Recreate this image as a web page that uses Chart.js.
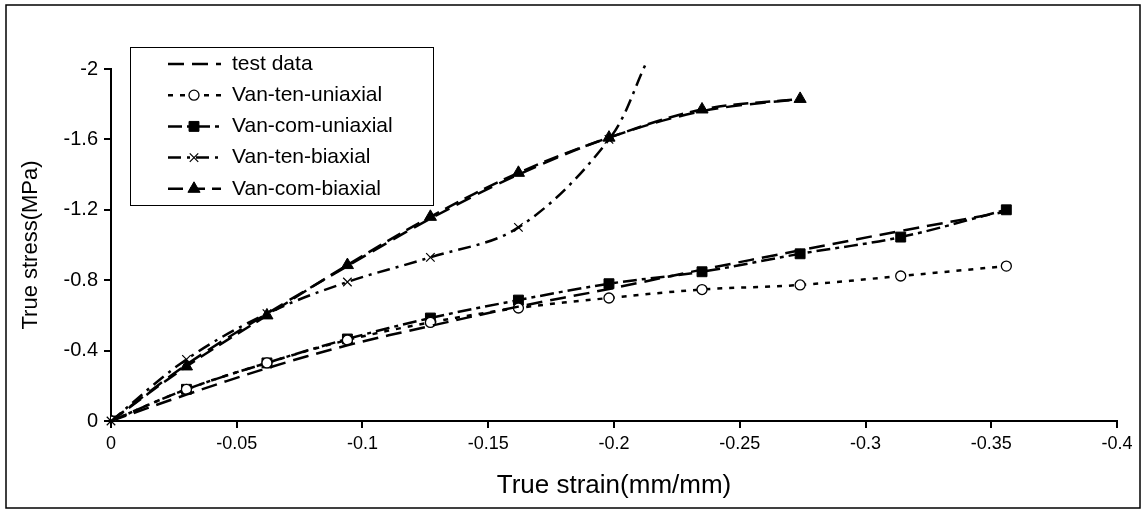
<!DOCTYPE html>
<html>
<head>
<meta charset="utf-8">
<script src="https://cdn.jsdelivr.net/npm/chart.js@4.4.0/dist/chart.umd.min.js"></script>
<style>
  body { margin: 0; background: #fff; }
  #wrap { width: 1146px; height: 513px; }
</style>
</head>
<body>
<div id="wrap"><canvas id="stressChart" width="1146" height="513"></canvas></div>
<script>
// strain points (mm/mm)
const strainPts = [0, -0.03, -0.062, -0.094, -0.127, -0.162, -0.198, -0.235, -0.274, -0.314, -0.356];
const strainBiTen = [0, -0.03, -0.062, -0.094, -0.127, -0.162, -0.198, -0.213];

// stress values (MPa)
const testUni = [0, -0.15, -0.30, -0.43, -0.54, -0.65, -0.75, -0.86, -0.97, -1.08, -1.19];
const testBi = [0, -0.32, -0.61, -0.88, -1.15, -1.40, -1.61, -1.76, -1.83];
const tenUni = [0, -0.18, -0.33, -0.46, -0.56, -0.642, -0.699, -0.747, -0.773, -0.824, -0.88];
const comUni = [0, -0.18, -0.33, -0.466, -0.585, -0.687, -0.78, -0.848, -0.95, -1.045, -1.20];
const tenBi = [0, -0.35, -0.61, -0.79, -0.93, -1.10, -1.60, -2.04];
const comBi = [0, -0.31, -0.60, -0.886, -1.16, -1.41, -1.61, -1.77, -1.83];

const xTicks = [0, -0.05, -0.1, -0.15, -0.2, -0.25, -0.3, -0.35, -0.4];
const yTicks = [0, -0.4, -0.8, -1.2, -1.6, -2];

const seriesNames = ['test data', 'Van-ten-uniaxial', 'Van-com-uniaxial', 'Van-ten-biaxial', 'Van-com-biaxial'];

const FONT = '"Liberation Sans", Arial, sans-serif';

function pts(xs, ys) {
  return ys.map((y, i) => ({ x: xs[i], y: y }));
}

const base = {
  showLine: true,
  borderColor: '#000',
  backgroundColor: '#000',
  pointBorderColor: '#000',
  borderWidth: 2.5,
  tension: 0.35,
  pointBorderWidth: 1
};

const datasets = [
  Object.assign({}, base, { label: seriesNames[0], data: pts(strainPts, testUni), borderDash: [16, 8], pointRadius: 0 }),
  Object.assign({}, base, { label: 'test data (biaxial)', data: pts(strainPts, testBi), borderDash: [16, 8], pointRadius: 0, noLegend: true }),
  Object.assign({}, base, { label: seriesNames[1], data: pts(strainPts, tenUni), borderDash: [5, 7], pointStyle: 'circle', pointRadius: 5, pointBackgroundColor: '#fff', pointBorderWidth: 1.3 }),
  Object.assign({}, base, { label: seriesNames[2], data: pts(strainPts, comUni), borderDash: [14, 5, 4, 5], pointStyle: 'rect', pointRadius: 7 }),
  Object.assign({}, base, { label: seriesNames[3], data: pts(strainBiTen, tenBi), borderDash: [13, 6, 3, 6], pointStyle: 'crossRot', pointRadius: tenBi.map((v, i) => i === tenBi.length - 1 ? 0 : 6), pointBorderWidth: 1.2, clip: false }),
  Object.assign({}, base, { label: seriesNames[4], data: pts(strainPts, comBi), borderDash: [15, 7], pointStyle: 'triangle', pointRadius: 7 })
];

// frame around the whole picture
const framePlugin = {
  id: 'frame',
  beforeDraw(chart) {
    const c = chart.ctx;
    c.save();
    c.fillStyle = '#fff';
    c.fillRect(0, 0, chart.width, chart.height);
    c.strokeStyle = '#000';
    c.lineWidth = 1.5;
    c.strokeRect(6, 5, 1134, 503);
    c.restore();
  }
};

// legend box like the original
const boxLegend = {
  id: 'boxLegend',
  afterDraw(chart) {
    const c = chart.ctx;
    c.save();
    c.fillStyle = '#fff';
    c.fillRect(130, 47, 303, 158);
    c.strokeStyle = '#000';
    c.lineWidth = 1;
    c.strokeRect(130.5, 47.5, 303, 158);
    let row = 0;
    chart.data.datasets.forEach(ds => {
      if (ds.noLegend) return;
      const y = 64 + row * 31.2;
      c.strokeStyle = '#000';
      c.lineWidth = 2.5;
      c.setLineDash(ds.borderDash || []);
      c.beginPath();
      c.moveTo(168, y);
      c.lineTo(221, y);
      c.stroke();
      c.setLineDash([]);
      if (ds.pointStyle) {
        const r = Array.isArray(ds.pointRadius) ? ds.pointRadius[1] : ds.pointRadius;
        c.fillStyle = ds.pointBackgroundColor || '#000';
        c.lineWidth = ds.pointBorderWidth || 1;
        Chart.helpers.drawPoint(c, { pointStyle: ds.pointStyle, radius: r, rotation: 0, borderWidth: ds.pointBorderWidth || 1 }, 194, y);
      }
      c.fillStyle = '#000';
      c.font = '21px ' + FONT;
      c.textBaseline = 'middle';
      c.textAlign = 'left';
      c.fillText(ds.label, 232, y);
      row++;
    });
    c.restore();
  }
};

const fmt = v => String(Number(v.toFixed(2)));

new Chart(document.getElementById('stressChart'), {
  type: 'scatter',
  data: { datasets: datasets },
  options: {
    responsive: false,
    animation: false,
    layout: { padding: { top: 69, right: 29, left: 0, bottom: 0 } },
    plugins: { legend: { display: false }, tooltip: { enabled: false } },
    scales: {
      x: {
        type: 'linear',
        min: -0.4, max: 0, reverse: true,
        afterBuildTicks: s => { s.ticks = xTicks.map(v => ({ value: v })); },
        afterFit: s => { s.height = 92; },
        border: { display: true, color: '#000', width: 2 },
        grid: { drawOnChartArea: false, color: '#000', lineWidth: 2, tickLength: 7 },
        ticks: {
          color: '#000', padding: 5, maxRotation: 0, autoSkip: false,
          font: { family: FONT, size: 18 },
          callback: v => fmt(v)
        },
        title: {
          display: true, text: 'True strain(mm/mm)', color: '#000',
          font: { family: FONT, size: 26 },
          padding: { top: 4, bottom: 12 }
        }
      },
      y: {
        type: 'linear',
        min: -2, max: 0, reverse: true,
        afterBuildTicks: s => { s.ticks = yTicks.map(v => ({ value: v })); },
        afterFit: s => { s.width = 111; },
        border: { display: true, color: '#000', width: 2 },
        grid: { drawOnChartArea: false, color: '#000', lineWidth: 2, tickLength: 7 },
        ticks: {
          color: '#000', padding: 6,
          font: { family: FONT, size: 20 },
          callback: v => fmt(v)
        },
        title: {
          display: true, text: 'True stress(MPa)', color: '#000',
          font: { family: FONT, size: 22 },
          padding: { top: 18, bottom: 0 }
        }
      }
    }
  },
  plugins: [framePlugin, boxLegend]
});
</script>
</body>
</html>
